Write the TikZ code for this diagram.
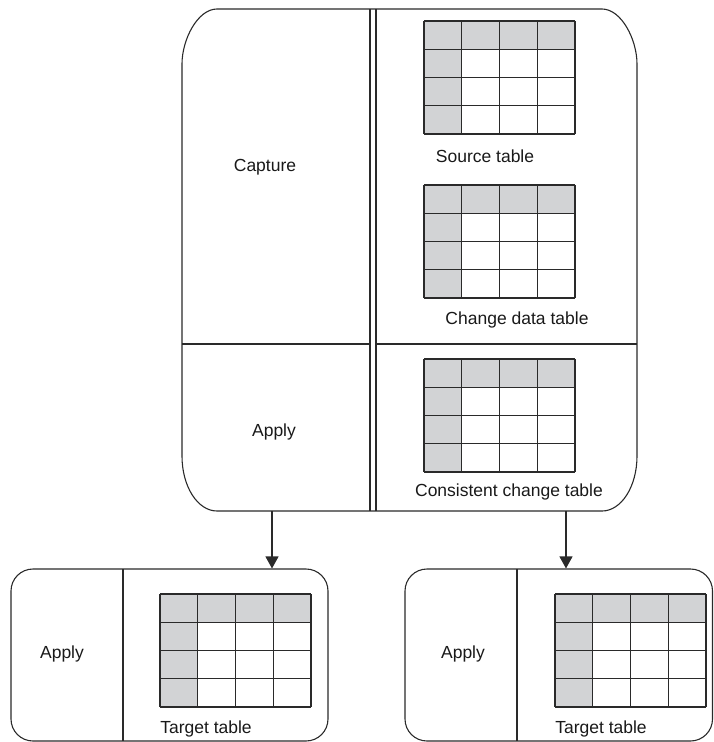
\documentclass[tikz,border=0pt]{standalone}
\usepackage{fontspec}
\setmainfont{Liberation Sans}
\usetikzlibrary{arrows.meta}

\definecolor{cellgray}{HTML}{D2D3D5}
\definecolor{inkline}{HTML}{2A2A2A}

\tikzset{
  outline/.style={draw=inkline, line width=1.1pt},
  gridline/.style={draw=inkline, line width=1.2pt},
  lbl/.style={font=\fontsize{17.5}{20}\selectfont, text=black!90, inner sep=0pt},
  sidebox/.style={outline, rounded corners=22pt, inner sep=0pt},
  flow/.style={draw=inkline, line width=1.1pt, -{Triangle[width=13pt,length=12pt]}},
  % a 4 x 4 table whose top-left corner sits at the pic's origin
  dbtable/.pic={
    \fill[cellgray] (0,0) rectangle (151,28.25);
    \fill[cellgray] (0,0) rectangle (37.75,113);
    \foreach \i in {0,...,4} {
      \draw[gridline] (\i*37.75,0) -- (\i*37.75,113);
      \draw[gridline] (0,\i*28.25) -- (151,\i*28.25);
    }
  }
}

\begin{document}
\begin{tikzpicture}[x=1pt, y=-1pt]
  \useasboundingbox (0,0) rectangle (714,742);

  % capture/apply server box with oval corners
  \node[inner sep=0pt, minimum width=455pt, minimum height=502pt] (cdc) at (409.5,260) {};
  \draw[outline]
    (217,9) -- (602,9)
    .. controls (621.3,9) and (637,39.4) .. (637,64) -- (637,456)
    .. controls (637,486.6) and (621.3,511) .. (602,511) -- (217,511)
    .. controls (197.7,511) and (182,486.6) .. (182,456) -- (182,64)
    .. controls (182,39.4) and (197.7,9) .. (217,9) -- cycle;
  % double separator and the capture/apply split
  \draw[outline] (370,9) -- (370,511);
  \draw[outline] (376,9) -- (376,511);
  \draw[outline] (182,344) -- (370,344);
  \draw[outline] (376,344) -- (637,344);

  \node[lbl] (capture) at (265,167) {Capture};
  \node[lbl] (apply) at (274,432) {Apply};

  \pic at (424,21) {dbtable};
  \node[lbl] (src) at (485,156) {Source table};
  \pic at (424,185) {dbtable};
  \node[lbl] (cd) at (517,320) {Change data table};
  \pic at (424,359) {dbtable};
  \node[lbl] (cc) at (509,492) {Consistent change table};

  % target servers
  \node[sidebox, minimum width=317pt, minimum height=172pt] (tgtL) at (169.5,655) {};
  \draw[outline] (123,569) -- (123,741);
  \node[lbl] (applyL) at (62,654) {Apply};
  \pic at (160,594) {dbtable};
  \node[lbl] (tL) at (206,729) {Target table};

  \node[sidebox, minimum width=307.5pt, minimum height=172pt] (tgtR) at (558.75,655) {};
  \draw[outline] (517,569) -- (517,741);
  \node[lbl] (applyR) at (463,654) {Apply};
  \pic at (555,594) {dbtable};
  \node[lbl] (tR) at (601,729) {Target table};

  % replication flows
  \coordinate (outL) at (272,511);
  \coordinate (outR) at (566,511);
  \draw[flow] (outL) -- (outL |- tgtL.north);
  \draw[flow] (outR) -- (outR |- tgtR.north);
\end{tikzpicture}
\end{document}
